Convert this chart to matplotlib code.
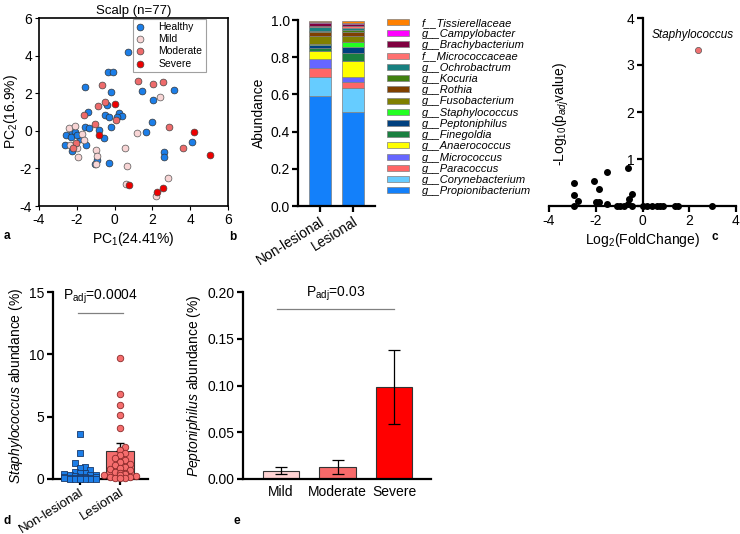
import numpy as np
import matplotlib
matplotlib.use('Agg')
import matplotlib.pyplot as plt

plt.rcParams['font.family'] = ['Liberation Sans', 'DejaVu Sans']
plt.rcParams['mathtext.fontset'] = 'custom'
plt.rcParams['mathtext.rm'] = 'Liberation Sans'
plt.rcParams['mathtext.it'] = 'Liberation Sans:italic'
plt.rcParams['axes.unicode_minus'] = False
plt.rcParams['font.size'] = 10

# ---- panel a: PCoA ----
healthy_x = [0.73, -0.37, -0.07, -1.58, -0.19, 1.45, 3.12, 2.05, -1.43, -0.42, -0.51, -0.30, 0.23, 0.37,
             0.11, -0.19, -1.58, -1.36, -2.55, -2.28, -2.10, -2.62, -2.32, -2.23, -1.84, -2.00, -1.49,
             -0.85, -0.57, 1.65, 1.96, 2.64, 2.64, 4.11, -1.04, -0.92, -0.28, -2.23]
healthy_y = [4.18, 3.12, 3.12, 2.35, 2.05, 2.14, 2.17, 1.64, 1.02, 1.36, 0.84, 0.72, 0.93, 0.80,
             0.75, 0.20, 0.22, 0.13, -0.21, -0.10, -0.05, -0.73, -0.32, -0.80, -0.44, -0.20, -0.76,
             0.04, -0.37, -0.09, 0.48, -1.14, -1.37, -0.57, -1.74, -1.56, -1.69, -1.06]
mild_x = [2.41, 1.20, 0.55, 0.64, 0.58, 2.85, 2.19, -2.41, -2.07, -1.75, -1.63, -1.01, -0.92, -1.96,
          -2.34, -0.96, -2.00]
mild_y = [1.82, -0.14, -0.90, -1.86, -2.84, -2.49, -3.48, 0.16, 0.27, -0.17, -0.50, -1.03, -1.35,
          -1.42, -0.76, -1.74, -0.94]
moderate_x = [-0.65, -0.51, -0.87, -1.63, -1.04, 0.07, 1.26, 2.05, 2.58, 2.88, 3.61, -2.05, -2.19]
moderate_y = [2.44, 1.53, 1.33, 0.86, 0.34, 0.57, 2.67, 2.51, 2.57, 0.20, -0.94, -0.64, -0.94]
severe_x = [0.02, -0.81, 4.21, 5.03, 0.78, 2.23, 2.58]
severe_y = [1.41, -0.23, -0.09, -1.30, -2.90, -3.25, -3.04]

# ---- panel b: stacked composition ----
groups_b = ['Non-lesional', 'Lesional']
taxa = ['g__Propionibacterium', 'g__Corynebacterium', 'g__Paracoccus', 'g__Micrococcus',
        'g__Anaerococcus', 'g__Finegoldia', 'g__Peptoniphilus', 'g__Staphylococcus',
        'g__Fusobacterium', 'g__Rothia', 'g__Kocuria', 'g__Ochrobactrum', 'f__Micrococcaceae',
        'g__Brachybacterium', 'g__Campylobacter', 'f__Tissierellaceae']
nonlesional_ab = [0.590, 0.105, 0.049, 0.047, 0.040, 0.020, 0.014, 0.006, 0.045, 0.018,
                  0.006, 0.022, 0.008, 0.014, 0.006, 0.006]
lesional_ab = [0.503, 0.131, 0.030, 0.031, 0.086, 0.039, 0.036, 0.025, 0.035, 0.021,
               0.009, 0.011, 0.011, 0.011, 0.007, 0.010]
taxa_colors = ['#1380FA', '#66CCFF', '#FF6666', '#6666FF', '#FFFF00', '#1A8040', '#00407F',
               '#22FF22', '#808000', '#804000', '#408010', '#178080', '#FF7070', '#800040',
               '#FF00FF', '#FF8000']

# ---- panel c: volcano ----
log2fc = [-2.91, -2.91, -2.74, -2.91, -2.09, -1.86, -2.00, -1.86, -1.53, -1.53, -0.63, -0.46,
          -0.56, -0.60, -1.10, -0.96, -0.81, -0.46, 0.04, 0.19, 0.40, 0.61, 0.76, 0.86, 1.37,
          1.54, 2.97]
neglog10p = [0.50, 0.24, 0.10, 0.00, 0.53, 0.36, 0.08, 0.08, 0.73, 0.05, 0.81, 0.25,
             0.14, 0.05, 0.00, 0.00, 0.00, 0.00, 0.00, 0.00, 0.00, 0.00, 0.00, 0.00, 0.00,
             0.00, 0.00]
staph_fc, staph_p = 2.36, 3.32

# ---- panel d: Staphylococcus abundance ----
groups_d = ['Non-lesional', 'Lesional']
staph_nonles = [3.6, 2.1, 1.3, 0.95, 0.9, 0.7, 0.6, 0.5, 0.45, 0.4, 0.35, 0.3, 0.3, 0.25, 0.2,
                0.2, 0.15, 0.15, 0.12, 0.1, 0.1, 0.08, 0.06, 0.05, 0.04, 0.03, 0.02, 0.02, 0.01, 0.01]
staph_les = [9.7, 6.8, 5.9, 5.1, 4.1, 2.6, 2.3, 2.1, 1.9, 1.7, 1.5, 1.4, 1.2, 1.1, 1.0, 0.9,
             0.8, 0.7, 0.6, 0.5, 0.45, 0.4, 0.35, 0.3, 0.25, 0.2, 0.15, 0.1, 0.1, 0.05]
staph_mean = [0.45, 2.25]
staph_sem = [0.15, 0.62]

# ---- panel e: Peptoniphilus by severity ----
groups_e = ['Mild', 'Moderate', 'Severe']
pepto_mean = [0.009, 0.0125, 0.098]
pepto_low = [0.005, 0.005, 0.059]
pepto_high = [0.013, 0.0205, 0.138]
sev_colors = ['#FFD3D3', '#F86A6A', '#FF0000']

W, H = 740, 534
fig = plt.figure(figsize=(7.4, 5.34), dpi=100)


def add_ax(l, t, r, b):
    return fig.add_axes([l / W, 1 - b / H, (r - l) / W, (b - t) / H])


def style_lb(ax, lw=1.6):
    for s in ['top', 'right']:
        ax.spines[s].set_visible(False)
    for s in ['left', 'bottom']:
        ax.spines[s].set_linewidth(lw)
    ax.tick_params(width=lw, length=4, labelsize=10, pad=2)


def swarm(vals, bin_h, step, ncol=7):
    vals = np.asarray(vals)
    offs = np.zeros(len(vals))
    counts = {}
    for i in np.argsort(vals):
        b = int(vals[i] // bin_h)
        k = counts.get(b, 0)
        counts[b] = k + 1
        k = k % ncol
        offs[i] = ((k + 1) // 2) * step * (1 if k % 2 else -1)
    return offs


# panel a
ax = add_ax(39, 18, 228, 206)
ax.scatter(healthy_x, healthy_y, s=24, c='#1C7EE8', edgecolors='#333333', linewidths=0.5, label='Healthy', zorder=3)
ax.scatter(mild_x, mild_y, s=24, c='#F8D5D5', edgecolors='#555555', linewidths=0.5, label='Mild', zorder=3)
ax.scatter(moderate_x, moderate_y, s=24, c='#EE6B6B', edgecolors='#444444', linewidths=0.5, label='Moderate', zorder=3)
ax.scatter(severe_x, severe_y, s=24, c='#EE0000', edgecolors='#444444', linewidths=0.5, label='Severe', zorder=3)
ax.set_xlim(-4, 6)
ax.set_ylim(-4, 6)
ax.set_xticks([-4, -2, 0, 2, 4, 6])
ax.set_yticks([-4, -2, 0, 2, 4, 6])
ax.tick_params(labelsize=10, length=3, pad=2)
for s in ax.spines.values():
    s.set_linewidth(1.2)
ax.set_xlabel('PC$_1$(24.41%)', fontsize=10, labelpad=2)
ax.set_ylabel('PC$_2$(16.9%)', fontsize=10, labelpad=0)
ax.set_title('Scalp (n=77)', fontsize=9.5, pad=3)
leg = ax.legend(loc='upper right', bbox_to_anchor=(0.885, 1.0), fontsize=7.5, frameon=True, fancybox=False,
                edgecolor='#888888', handletextpad=1.3, labelspacing=0.22, borderpad=0.3,
                borderaxespad=0.05, handlelength=0.9)
leg.get_frame().set_linewidth(0.8)

# panel b
ax = add_ax(298, 20, 375, 206)
xb = np.arange(len(groups_b))
bottom = np.zeros(len(groups_b))
handles = []
for name, col, v1, v2 in zip(taxa, taxa_colors, nonlesional_ab, lesional_ab):
    h = ax.bar(xb, [v1, v2], 0.67, bottom=bottom, color=col, edgecolor='#7F7F7F', linewidth=0.5, label=name)
    bottom += np.array([v1, v2])
    handles.append(h)
ax.set_xlim(-0.67, 1.67)
ax.set_ylim(0, 1.0)
ax.set_yticks([0, 0.2, 0.4, 0.6, 0.8, 1.0])
ax.set_yticklabels(['0.0', '0.2', '0.4', '0.6', '0.8', '1.0'])
ax.set_xticks(xb)
ax.set_xticklabels(groups_b, rotation=32, ha='right', rotation_mode='anchor')
style_lb(ax)
ax.set_ylabel('Abundance', fontsize=10, labelpad=3)
ax.legend(handles[::-1], taxa[::-1], loc='upper left', bbox_to_anchor=(1.1, 1.035), frameon=False,
          prop={'style': 'italic', 'size': 8}, handlelength=2.0, handleheight=0.45,
          labelspacing=0.11, handletextpad=1.1, borderaxespad=0)

# panel c
ax = add_ax(549, 18, 736, 206)
ax.scatter(log2fc, neglog10p, s=16, c='black', zorder=3, clip_on=False)
ax.scatter([staph_fc], [staph_p], s=20, c='#F07070', edgecolors='#555555', linewidths=0.5, zorder=3, clip_on=False)
ax.text(staph_fc - 0.2, 3.64, 'Staphylococcus', style='italic', fontsize=8.5, ha='center', va='center')
ax.set_xlim(-4, 4)
ax.set_ylim(0, 4)
ax.spines['left'].set_position(('data', 0))
ax.set_xticks([-4, -2, 0, 2, 4])
ax.set_yticks([0, 1, 2, 3, 4])
ax.set_yticklabels(['', '1', '2', '3', '4'])
style_lb(ax)
ax.set_xlabel('Log$_2$(FoldChange)', fontsize=10, labelpad=2)
ax.text(0.065, 0.49, '-Log$_{10}$(p$_{adj}$value)', rotation=90, fontsize=10, ha='center', va='center',
        transform=ax.transAxes)

# panel d
ax = add_ax(53, 292, 148, 479)
xd = np.arange(len(groups_d))
ax.bar(xd, staph_mean, 0.68, color=['#1C7EE8', '#F56D6D'], edgecolor='#333333', linewidth=0.8, zorder=1)
ax.errorbar(xd, staph_mean, yerr=[[0, 0], staph_sem], fmt='none', ecolor='black', elinewidth=1,
            capsize=3, capthick=1, zorder=2)
off0 = swarm(staph_nonles, 0.45, 0.13)
off1 = swarm(staph_les, 0.45, 0.13)
ax.scatter(xd[0] + off0, staph_nonles, marker='s', s=20, c='#1C7EE8', edgecolors='#1A3A6A',
           linewidths=0.6, zorder=3, clip_on=False)
ax.scatter(xd[1] + off1, staph_les, marker='o', s=22, c='#F56D6D', edgecolors='#8A2A2A',
           linewidths=0.6, zorder=3, clip_on=False)
ax.plot([-0.05, 1.08], [13.3, 13.3], color='#808080', lw=0.9)
ax.text(0.5, 14.6, 'P$_{\\mathrm{adj}}$=0.0004', fontsize=10, ha='center', va='center')
ax.set_xlim(-0.675, 1.7)
ax.set_ylim(0, 15)
ax.set_yticks([0, 5, 10, 15])
ax.set_xticks(xd)
ax.set_xticklabels(groups_d, rotation=32, ha='right', rotation_mode='anchor')
style_lb(ax)
ax.tick_params(axis='x', labelsize=9.5, pad=1)
ax.set_ylabel('$\\it{Staphylococcus}$ abundance (%)', fontsize=10, labelpad=3)

# panel e
ax = add_ax(243, 292, 431, 479)
xe = np.arange(len(groups_e))
ax.bar(xe, pepto_mean, 0.64, color=sev_colors, edgecolor='#333333', linewidth=0.8)
yerr = [np.array(pepto_mean) - np.array(pepto_low), np.array(pepto_high) - np.array(pepto_mean)]
ax.errorbar(xe, pepto_mean, yerr=yerr, fmt='none', ecolor='black', elinewidth=0.9, capsize=4, capthick=0.9)
ax.plot([-0.07, 2.0], [0.182, 0.182], color='#808080', lw=0.9)
ax.text(0.96, 0.1985, 'P$_{\\mathrm{adj}}$=0.03', fontsize=10, ha='center', va='center')
ax.set_xlim(-0.67, 2.65)
ax.set_ylim(0, 0.2)
ax.set_yticks([0, 0.05, 0.10, 0.15, 0.20])
ax.set_yticklabels(['0.00', '0.05', '0.10', '0.15', '0.20'])
ax.set_xticks(xe)
ax.set_xticklabels(groups_e)
style_lb(ax)
ax.tick_params(axis='x', length=0, pad=4)
ax.set_ylabel('$\\it{Peptoniphilus}$ abundance (%)', fontsize=10, labelpad=3)

for lab, x, y in [('a', 4, 236), ('b', 229, 237), ('c', 712, 237), ('d', 4, 521), ('e', 233, 521)]:
    fig.text(x / W, 1 - y / H, lab, fontsize=8.5, fontweight='bold', ha='left', va='center')

fig.savefig('out.png', dpi=100)
